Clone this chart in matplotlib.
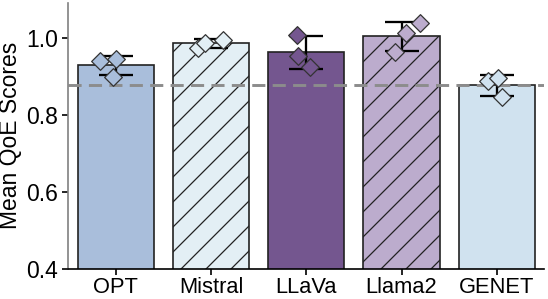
import numpy as np
import matplotlib
matplotlib.use("Agg")
import matplotlib.pyplot as plt

models = ["OPT", "Mistral", "LLaVa", "Llama2", "GENET"]
opt_scores = [0.942, 0.946, 0.900]
mistral_scores = [0.975, 0.989, 0.996]
llava_scores = [1.009, 0.955, 0.926]
llama2_scores = [0.965, 1.013, 1.039]
genet_scores = [0.889, 0.897, 0.846]
yticks = [0.4, 0.6, 0.8, 1.0]

# styling
colors = ["#a9bedb", "#e3eff5", "#74568f", "#bcaccd", "#d0e2ef"]
hatches = ["", "//", "", "//", ""]
jitter = [[-0.17, 0.0, -0.03], [-0.14, -0.065, 0.13], [-0.10, -0.09, 0.04],
          [-0.07, 0.05, 0.19], [-0.09, 0.01, 0.05]]

plt.rcParams['font.family'] = ['Liberation Sans', 'DejaVu Sans']
plt.rcParams['hatch.linewidth'] = 0.6

all_scores = [opt_scores, mistral_scores, llava_scores, llama2_scores, genet_scores]
means = [np.mean(s) for s in all_scores]
sds = [np.std(s, ddof=1) for s in all_scores]

fig = plt.figure(figsize=(548 / 150, 299 / 150), dpi=150)
ax = fig.add_axes([0.1246, 0.102, 0.9934 - 0.1246, 0.990 - 0.102])

x = np.arange(len(models))
for i in range(len(models)):
    ax.bar(x[i], means[i], width=0.8, color=colors[i], edgecolor="#222222",
           linewidth=0.8, hatch=hatches[i], zorder=2)

ax.errorbar(x, means, yerr=sds, fmt="none", ecolor="black", elinewidth=1.1,
            capsize=8, capthick=1.1, zorder=3)

ax.axhline(means[-1], color="#8c8c8c", linestyle=(0, (4.5, 2.5)), linewidth=1.4, zorder=2.5)

for i, s in enumerate(all_scores):
    xs = x[i] + np.array(jitter[i])
    ax.scatter(xs, s, marker="D", s=36, color=colors[i], edgecolor="#333333",
               linewidth=0.6, zorder=4)

ax.set_xlim(-0.5, 4.5)
ax.set_ylim(0.4, 1.092)
ax.set_yticks(yticks)
ax.set_yticklabels([f"{v:.1f}" for v in yticks])
ax.set_xticks(x)
ax.set_xticklabels(models)
ax.set_ylabel("Mean QoE Scores", fontsize=11, labelpad=2)
ax.tick_params(axis="y", labelsize=11, length=3, width=0.8, pad=2)
ax.tick_params(axis="x", labelsize=10.5, length=3, width=0.8, pad=1)
ax.spines["top"].set_visible(False)
ax.spines["right"].set_visible(False)
ax.spines["left"].set_color("#808080")
ax.spines["left"].set_linewidth(0.8)
ax.spines["bottom"].set_color("black")
ax.spines["bottom"].set_linewidth(0.8)

fig.savefig("out.png", dpi=150)
